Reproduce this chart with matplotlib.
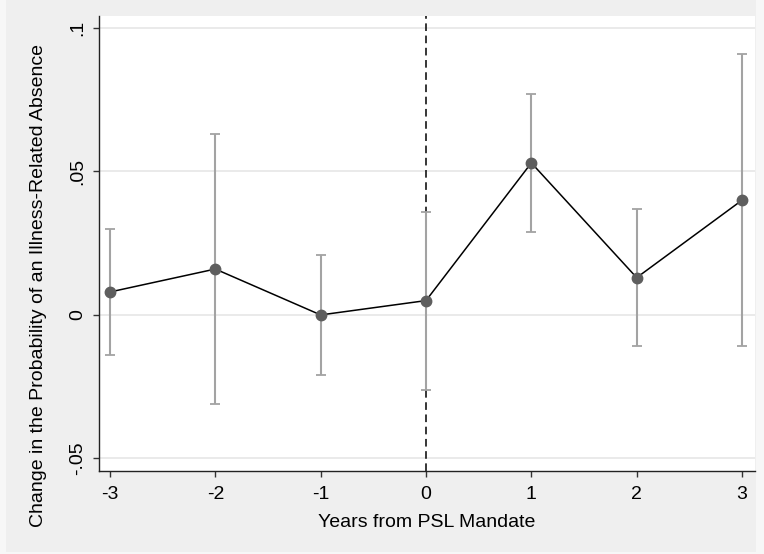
import matplotlib
matplotlib.use("Agg")
import matplotlib.pyplot as plt
from matplotlib.patches import Rectangle

# event-study estimates
years = [-3, -2, -1, 0, 1, 2, 3]
coef = [0.008, 0.016, 0.0, 0.005, 0.053, 0.013, 0.040]
ci_low = [-0.014, -0.031, -0.021, -0.026, 0.029, -0.011, -0.011]
ci_high = [0.030, 0.063, 0.021, 0.036, 0.077, 0.037, 0.091]

yticks = [-0.05, 0, 0.05, 0.1]
ytick_labels = ["-.05", "0", ".05", ".1"]

plt.rcParams['font.family'] = ['Liberation Sans', 'DejaVu Sans']

W, H = 764, 554
fig = plt.figure(figsize=(W / 100, H / 100), dpi=100, facecolor='#f7f7f7')
bg = Rectangle((6 / W, 2 / H), 750 / W, 1 - 2 / H,
               transform=fig.transFigure, facecolor='#efefef',
               edgecolor='none', zorder=-10)
fig.patches.append(bg)

ax = fig.add_axes([98.7 / W, (H - 471) / H, (755 - 98.7) / W, (471 - 16) / H])
ax.set_facecolor('white')

ax.set_xlim(-3.107, 3.123)
ax.set_ylim(-0.0544, 0.1042)

for t in yticks:
    ax.axhline(t, color='#e6e6e6', lw=1.2, zorder=1)

ax.axvline(0, color='black', lw=1.1, ls=(0, (5, 3)), zorder=2)

lo_err = [c - l for c, l in zip(coef, ci_low)]
hi_err = [h - c for c, h in zip(coef, ci_high)]
ax.errorbar(years, coef, yerr=[lo_err, hi_err], fmt='none', ecolor='#a3a3a3',
            elinewidth=1.5, capsize=3.4, capthick=1.3, zorder=3)
ax.plot(years, coef, color='black', lw=1.1, zorder=4)
ax.plot(years, coef, 'o', color='#5e5e5e', ms=7.5, mec='#5e5e5e', zorder=5)

ax.set_xticks(years)
ax.set_xticklabels([str(y) for y in years])
ax.set_yticks(yticks)
ax.set_yticklabels(ytick_labels, rotation=90, va='center')

for s in ['top', 'right']:
    ax.spines[s].set_visible(False)
for s in ['left', 'bottom']:
    ax.spines[s].set_color('#222222')
    ax.spines[s].set_linewidth(1.0)

ax.tick_params(axis='both', direction='out', length=4.2, width=1, color='#333333',
               labelsize=14)
ax.tick_params(axis='x', pad=6.5)
ax.tick_params(axis='y', pad=4.5)

ax.set_xlabel("Years from PSL Mandate", fontsize=14, labelpad=8)
ax.set_ylabel("Change in the Probability of an Illness-Related Absence", fontsize=14)
ax.yaxis.set_label_coords(-0.079, 0.4066)

fig.savefig("out.png", dpi=100, facecolor=fig.get_facecolor())
